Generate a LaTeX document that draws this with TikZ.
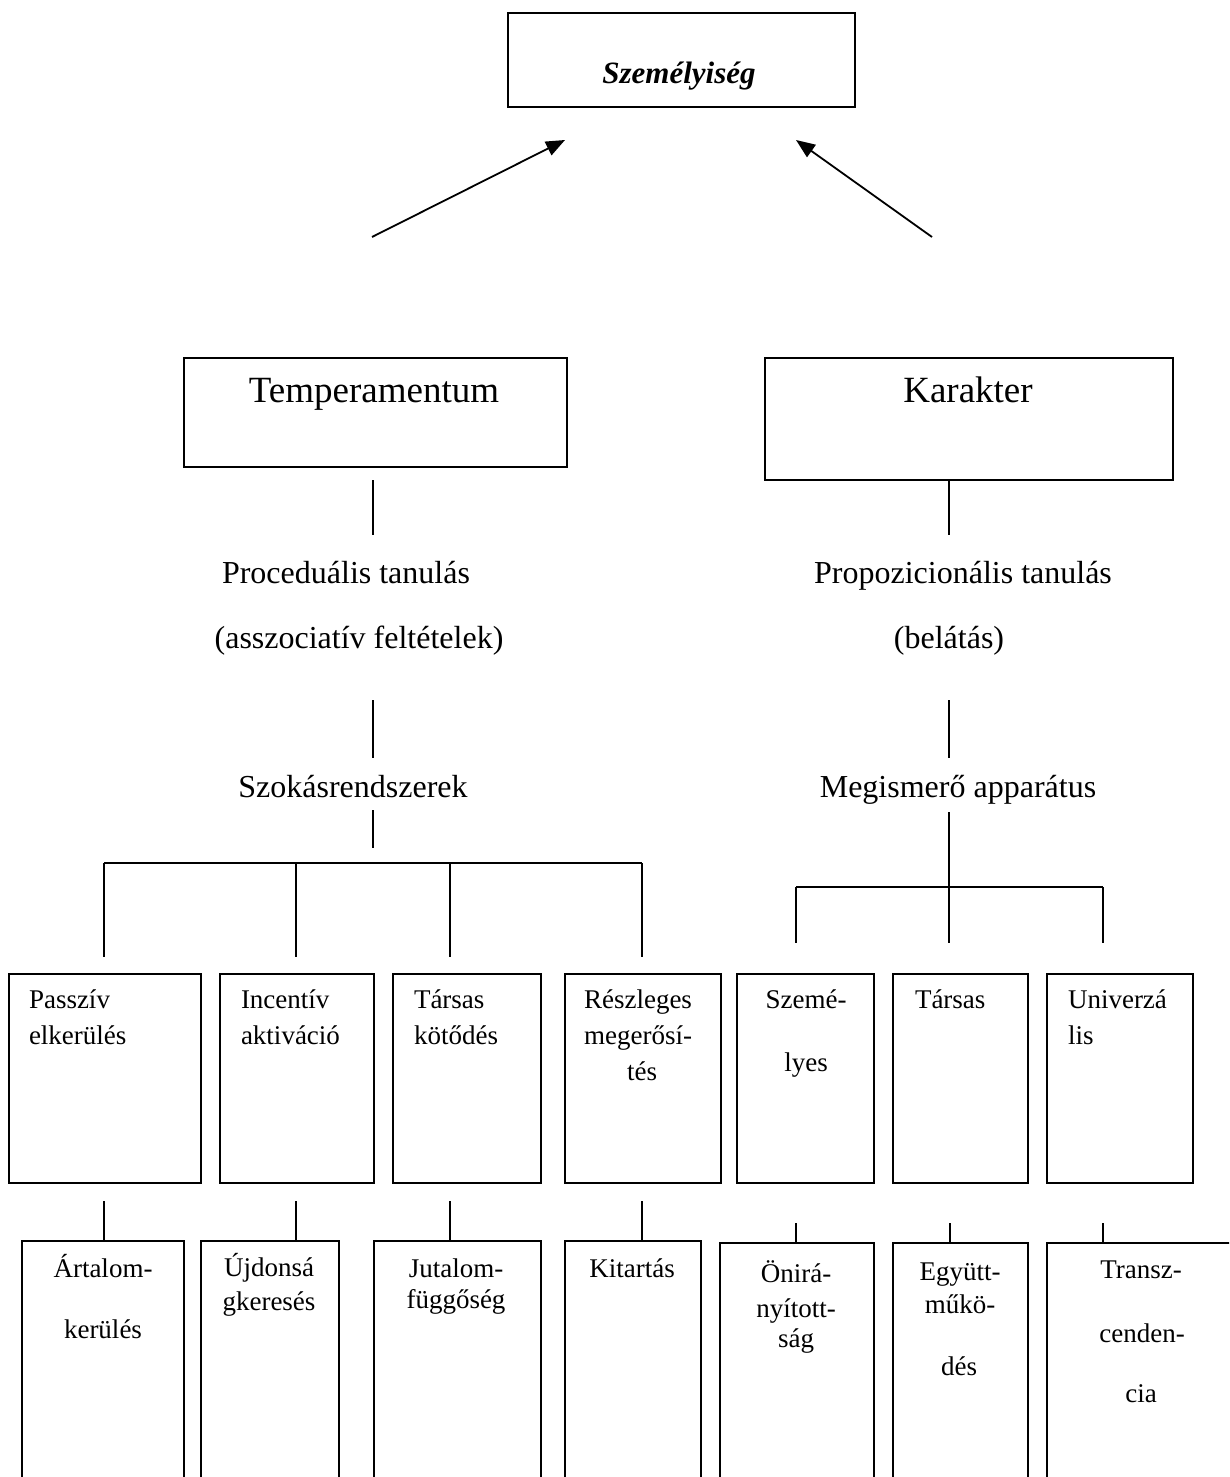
\documentclass[tikz,border=0pt]{standalone}
\usepackage{fontspec}
\setmainfont{Liberation Serif}
\usetikzlibrary{arrows.meta}
\begin{document}
\begin{tikzpicture}[x=1pt,y=-1pt,
  line width=2pt,
  boxnode/.style={draw, line width=2pt, inner sep=0pt, anchor=north west},
  headtxt/.style={inner sep=0pt, anchor=base, font=\fontsize{37}{40}\selectfont},
  midtxt/.style={inner sep=0pt, anchor=base, font=\fontsize{32}{36}\selectfont},
  celltxt/.style={inner sep=0pt, anchor=base, font=\fontsize{27}{30}\selectfont},
  cellleft/.style={celltxt, anchor=base west},
  toptxt/.style={inner sep=0pt, anchor=base, font=\fontsize{31}{34}\selectfont\bfseries\itshape},
  upArrow/.style={-{Triangle[length=19pt,width=15pt]}, line width=1.8pt}]
\fill[white] (0,0) rectangle (1229,1477);
\useasboundingbox (0,0) rectangle (1229,1477);
\clip (0,0) rectangle (1229,1477);

% --- top level ---
\node[boxnode, minimum width=347pt, minimum height=94pt] (pers) at (507,12) {};
\node[toptxt] (persT) at (679,84) {Személyiség};

\coordinate (arrL0) at (372,237);
\coordinate (arrL1) at (565,140);
\coordinate (arrR0) at (932,237);
\coordinate (arrR1) at (796,140);
\draw[upArrow] (arrL0) -- (arrL1);
\draw[upArrow] (arrR0) -- (arrR1);

% --- second level ---
\node[boxnode, minimum width=383pt, minimum height=109pt] (temp) at (183,357) {};
\node[headtxt] (tempT) at (374,402) {Temperamentum};
\node[boxnode, minimum width=408pt, minimum height=122pt] (kar) at (764,357) {};
\node[headtxt] (karT) at (968,402) {Karakter};

% --- left branch ---
\node[midtxt] (proc) at (346,583) {Proceduális tanulás};
\node[midtxt] (assz) at (359,648) {(asszociatív feltételek)};
\node[midtxt] (szok) at (353,797) {Szokásrendszerek};

\coordinate (l1a) at (373,480);  \coordinate (l1b) at (373,535);
\coordinate (l2a) at (373,700);  \coordinate (l2b) at (373,758);
\coordinate (l3a) at (373,810);  \coordinate (l3b) at (373,848);
\draw (l1a) -- (l1b);
\draw (l2a) -- (l2b);
\draw (l3a) -- (l3b);
\coordinate (lbarA) at (104,863);
\coordinate (lbarB) at (296,863);
\coordinate (lbarC) at (450,863);
\coordinate (lbarD) at (642,863);
\draw (lbarA) -- (lbarD);
\foreach \c in {A,B,C,D} \draw (lbar\c) -- ++(0,94);

% --- right branch ---
\node[midtxt] (prop) at (963,583) {Propozicionális tanulás};
\node[midtxt] (bel) at (949,648) {(belátás)};
\node[midtxt] (megi) at (958,797) {Megismerő apparátus};

\coordinate (r1a) at (949,479);  \coordinate (r1b) at (949,535);
\coordinate (r2a) at (949,700);  \coordinate (r2b) at (949,758);
\coordinate (r3a) at (949,812);  \coordinate (r3b) at (949,943);
\draw (r1a) -- (r1b);
\draw (r2a) -- (r2b);
\draw (r3a) -- (r3b);
\coordinate (rbarA) at (796,887);
\coordinate (rbarC) at (1103,887);
\draw (rbarA) -- (rbarC);
\draw (rbarA) -- ++(0,56);
\draw (rbarC) -- ++(0,56);

% --- third level boxes ---
\node[boxnode, minimum width=192pt, minimum height=209pt] (pa) at (8,973) {};
\node[boxnode, minimum width=154pt, minimum height=209pt] (ia) at (219,973) {};
\node[boxnode, minimum width=148pt, minimum height=209pt] (tk) at (392,973) {};
\node[boxnode, minimum width=156pt, minimum height=209pt] (rm) at (564,973) {};
\node[boxnode, minimum width=137pt, minimum height=209pt] (sz) at (736,973) {};
\node[boxnode, minimum width=135pt, minimum height=209pt] (ta) at (892,973) {};
\node[boxnode, minimum width=146pt, minimum height=209pt] (un) at (1046,973) {};

\node[cellleft] at (28,1008) {Passzív};
\node[cellleft] at (28,1044) {elkerülés};
\node[cellleft] at (240,1008) {Incentív};
\node[cellleft] at (240,1044) {aktiváció};
\node[cellleft] at (413,1008) {Társas};
\node[cellleft] at (413,1044) {kötődés};
\node[celltxt] at (638,1008) {Részleges};
\node[celltxt] at (638,1044) {megerősí-};
\node[celltxt] at (642,1080) {tés};
\node[celltxt] at (806,1008) {Szemé-};
\node[celltxt] at (806,1071) {lyes};
\node[cellleft] at (914,1008) {Társas};
\node[cellleft] at (1067,1008) {Univerzá};
\node[cellleft] at (1067,1044) {lis};

% --- links to the fourth level ---
\coordinate (d1) at (104,1201);
\coordinate (d2) at (296,1201);
\coordinate (d3) at (450,1201);
\coordinate (d4) at (642,1201);
\coordinate (d5) at (796,1223);
\coordinate (d6) at (950,1223);
\coordinate (d7) at (1103,1223);

% --- fourth level boxes ---
\node[boxnode, minimum width=162pt, minimum height=300pt] (ak) at (21,1240) {};
\node[boxnode, minimum width=138pt, minimum height=300pt] (uk) at (200,1240) {};
\node[boxnode, minimum width=167pt, minimum height=300pt] (jf) at (373,1240) {};
\node[boxnode, minimum width=136pt, minimum height=300pt] (ki) at (564,1240) {};
\node[boxnode, minimum width=154pt, minimum height=300pt] (on) at (719,1242) {};
\node[boxnode, minimum width=135pt, minimum height=300pt] (em) at (892,1242) {};
\node[boxnode, minimum width=250pt, minimum height=300pt] (tr) at (1046,1242) {};

\draw (d1) -- (d1 |- ak.north);
\draw (d2) -- (d2 |- uk.north);
\draw (d3) -- (d3 |- jf.north);
\draw (d4) -- (d4 |- ki.north);
\draw (d5) -- (d5 |- on.north);
\draw (d6) -- (d6 |- em.north);
\draw (d7) -- (d7 |- tr.north);

\node[celltxt] at (103,1277) {Ártalom-};
\node[celltxt] at (103,1338) {kerülés};
\node[celltxt] at (269,1276) {Újdonsá};
\node[celltxt] at (269,1310) {gkeresés};
\node[celltxt] at (456,1277) {Jutalom-};
\node[celltxt] at (456,1308) {függőség};
\node[celltxt] at (632,1277) {Kitartás};
\node[celltxt] at (796,1282) {Önirá-};
\node[celltxt] at (796,1317) {nyított-};
\node[celltxt] at (796,1347) {ság};
\node[celltxt] at (960,1280) {Együtt-};
\node[celltxt] at (960,1313) {műkö-};
\node[celltxt] at (959,1375) {dés};
\node[celltxt] at (1141,1278) {Transz-};
\node[celltxt] at (1142,1342) {cenden-};
\node[celltxt] at (1141,1402) {cia};
\end{tikzpicture}
\end{document}
